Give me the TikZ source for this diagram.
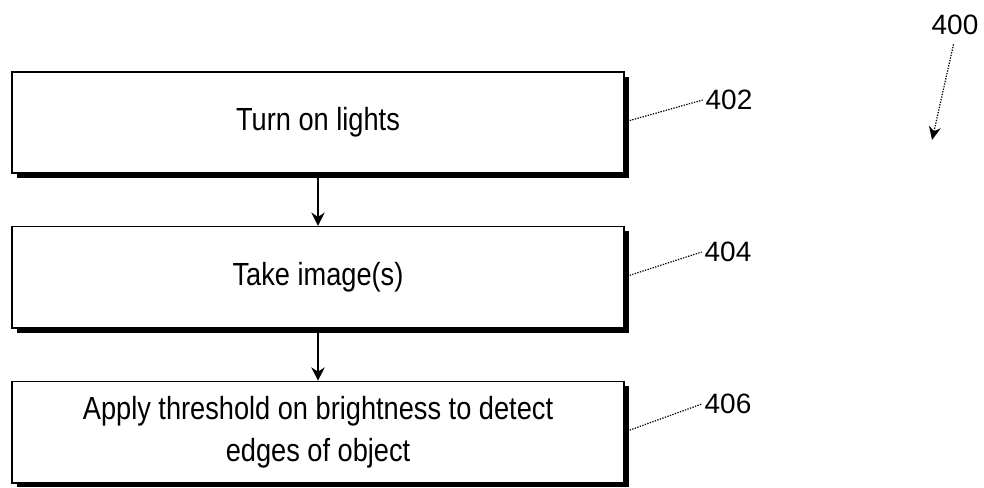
\documentclass[tikz,border=0pt]{standalone}
\usepackage{fontspec}
\setmainfont{Liberation Sans}
\newfontfamily\stepfont{Liberation Sans}[FakeStretch=0.85]
\usetikzlibrary{positioning,arrows.meta,shadows}
\tikzset{
  stepbox/.style={draw,line width=1.1pt,fill=white,minimum width=459pt,
    minimum height=76pt,align=center,
    font=\stepfont\fontsize{24}{31}\selectfont,
    drop shadow={shadow xshift=3.5pt,shadow yshift=-3.5pt,fill=black,opacity=1}},
  flow/.style={line width=1.2pt,-{Stealth[length=10pt,width=10pt]}},
  leader/.style={line width=0.9pt,dash pattern=on 1pt off 1pt},
  reflabel/.style={font=\fontsize{21}{25}\selectfont,inner sep=2pt}
}
\begin{document}
\begin{tikzpicture}[x=0.75pt,y=-0.75pt,node distance=39pt]
  \useasboundingbox (0,0) rectangle (984,487);
  % steps
  \node[stepbox] (lights) at (318,122.5) {Turn on lights};
  \node[stepbox,below=of lights] (image) {Take image(s)};
  \node[stepbox,below=of image] (thresh)
    {Apply threshold on brightness to detect\\edges of object};
  \draw[flow] (lights) -- (image);
  \draw[flow] (image) -- (thresh);

  % reference numerals
  \node[reflabel] (n402) at (729,100) {402};
  \node[reflabel] (n404) at (728,252) {404};
  \node[reflabel] (n406) at (728,404) {406};
  \draw[leader] (lights.east) ++(5,-2) -- (n402.west);
  \draw[leader] (image.east) ++(5,-2) -- (n404.west);
  \draw[leader] (thresh.east) ++(5,-2) -- (n406.west);

  \node[reflabel] (n400) at (955,25) {400};
  \coordinate (tip400) at (932,140);
  \draw[leader,shorten <=5pt,-{Stealth[length=10pt,width=9pt]}] (n400.south) -- (tip400);
\end{tikzpicture}
\end{document}
